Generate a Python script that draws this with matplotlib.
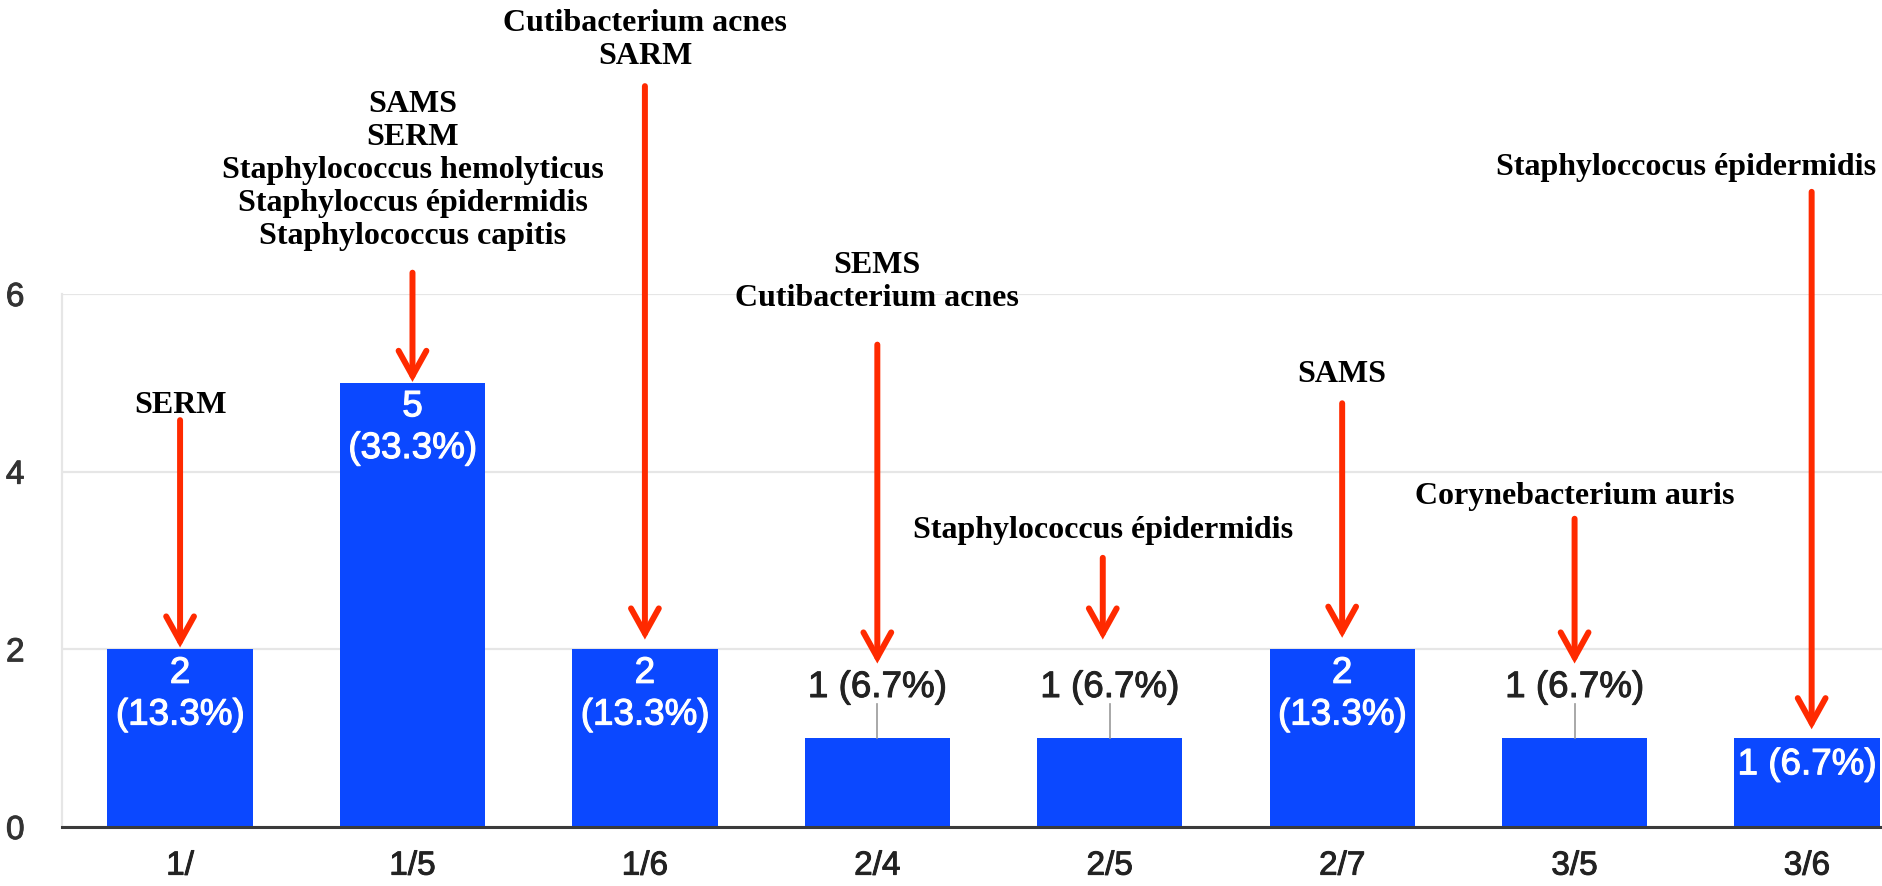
import matplotlib
matplotlib.use("Agg")
import matplotlib.pyplot as plt
import matplotlib.patheffects as pe

# ---------------- data ----------------
categories = ["1/", "1/5", "1/6", "2/4", "2/5", "2/7", "3/5", "3/6"]
counts = [2, 5, 2, 1, 1, 2, 1, 1]
notes = [
    "SERM",
    "SAMS\nSERM\nStaphylococcus hemolyticus\nStaphyloccus épidermidis\nStaphylococcus capitis",
    "Cutibacterium acnes\nSARM",
    "SEMS\nCutibacterium acnes",
    "Staphylococcus épidermidis",
    "SAMS",
    "Corynebacterium auris",
    "Staphyloccocus épidermidis",
]
y_ticks = [0, 2, 4, 6]

# ---------------- layout (annotation placement) ----------------
label_inside = [True, True, True, False, False, True, False, True]
note_x_shift = [0, 0, 0, 0, -0.03, 0, 0, -0.52]
note_y = [4.75, 7.39, 8.86, 6.13, 3.34, 5.09, 3.72, 7.42]
arrow_x_shift = [0, 0, 0, 0, -0.03, 0, 0, 0.02]
arrow_tail = [4.58, 6.24, 8.34, 5.43, 3.03, 4.77, 3.47, 7.15]
arrow_gap = [0.02, 0.01, 0.11, 0.84, 1.11, 0.13, 0.84, 0.10]

BAR = "#0b48ff"
RED = "#ff2a00"
SANS = ["Liberation Sans", "DejaVu Sans"]
SERIF = ["Liberation Serif", "DejaVu Serif"]

W, H = 1883, 886
fig = plt.figure(figsize=(W / 100, H / 100), dpi=100)
ax = fig.add_axes([62 / W, 59 / H, 1 - 62 / W, 533 / H])

x = list(range(len(categories)))
ax.bar(x, counts, width=0.625, color=BAR, zorder=2)

ax.set_xlim(-0.508, 7.327)
ax.set_ylim(0, 6)
ax.set_yticks(y_ticks)
ax.set_yticklabels([str(t) for t in y_ticks], family=SANS, fontsize=24, color="#333333")
ax.set_xticks(x)
ax.set_xticklabels(categories, family=SANS, fontsize=24, color="#222222")
for lab in ax.get_xticklabels() + ax.get_yticklabels():
    lab.set_path_effects([pe.withStroke(linewidth=0.7, foreground=lab.get_color())])
ax.tick_params(axis="both", length=0)
ax.tick_params(axis="x", pad=17)
ax.tick_params(axis="y", pad=27)
ax.grid(axis="y", color="#e6e6e6", lw=1.6, zorder=0)
ax.set_axisbelow(True)
for s in ["top", "right", "bottom"]:
    ax.spines[s].set_visible(False)
ax.spines["left"].set_color("#e6e6e6")
ax.spines["left"].set_linewidth(1.6)
ax.axhline(0, color="#3a3a3a", lw=2.2, zorder=3, clip_on=False)

white_fx = [pe.withStroke(linewidth=0.8, foreground="white")]
dark_fx = [pe.withStroke(linewidth=0.7, foreground="#222222")]
total = sum(counts)
for i, v in enumerate(counts):
    pct = f"({v / total * 100:.1f}%)"
    if label_inside[i]:
        if v >= 2:
            ax.text(i, v - 0.27, str(v), ha="center", va="center", color="white",
                    family=SANS, fontsize=26.5, zorder=4, path_effects=white_fx)
            ax.text(i, v - 0.74, pct, ha="center", va="center", color="white",
                    family=SANS, fontsize=26.5, zorder=4, path_effects=white_fx)
        else:
            ax.text(i, v - 0.30, f"{v} {pct}", ha="center", va="center", color="white",
                    family=SANS, fontsize=26.5, zorder=4, path_effects=white_fx)
    else:
        ax.plot([i, i], [v, v + 0.385], color="#999999", lw=1.2, zorder=3)
        ax.text(i, v + 0.57, f"{v} {pct}", ha="center", va="center", color="#222222",
                family=SANS, fontsize=26.5, zorder=4, path_effects=dark_fx)

for i, v in enumerate(counts):
    ax.text(i + note_x_shift[i], note_y[i], notes[i], ha="center", va="center",
            family=SERIF, fontweight="bold", fontsize=23, color="black",
            linespacing=1.18, clip_on=False, zorder=5)
    xa = i + arrow_x_shift[i]
    ax.annotate("", xy=(xa, v + arrow_gap[i]), xytext=(xa, arrow_tail[i]),
                arrowprops=dict(arrowstyle="->,head_length=0.9,head_width=0.5",
                                color=RED, lw=4.3, shrinkA=0, shrinkB=0,
                                mutation_scale=20, joinstyle="miter"),
                annotation_clip=False, zorder=6)

fig.savefig("out.png", dpi=100)
